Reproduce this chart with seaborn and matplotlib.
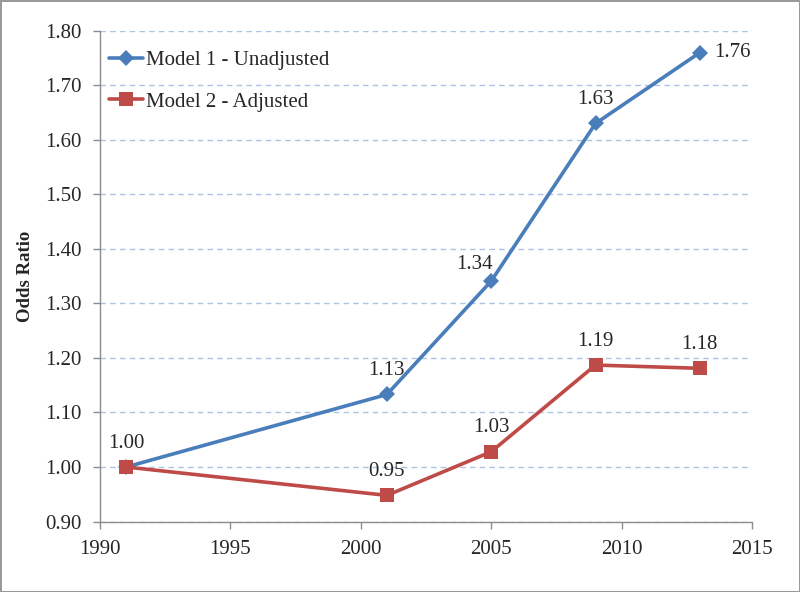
import numpy as np
import pandas as pd
import matplotlib
matplotlib.use("Agg")
import matplotlib.pyplot as plt
from matplotlib.lines import Line2D
import seaborn as sns

# ------------------------------------------------------------
# Data
# ------------------------------------------------------------
years = [1991, 2001, 2005, 2009, 2013]
model1 = [1.000, 1.133, 1.341, 1.630, 1.760]
model2 = [1.000, 0.948, 1.028, 1.187, 1.181]
series_names = ["Model 1 - Unadjusted", "Model 2 - Adjusted"]

df = pd.DataFrame({
    "Year": years * 2,
    "OR": model1 + model2,
    "Model": [series_names[0]] * len(years) + [series_names[1]] * len(years),
})

BLUE = "#4a7ebb"
RED = "#be4b48"
FS = 15

sns.set_style("white")
plt.rcParams["font.family"] = ["Liberation Serif", "DejaVu Serif"]

fig = plt.figure(figsize=(8, 5.92), dpi=100, edgecolor="#9a9a9a", linewidth=2)
ax = fig.add_axes([0.125, 0.119, 0.815, 0.829])

sns.lineplot(data=df, x="Year", y="OR", hue="Model", style="Model",
             palette=[BLUE, RED], markers=["D", "s"], dashes=False,
             markersize=9, markeredgewidth=0, linewidth=2.6, ax=ax, legend=False)
ax.lines[0].set_markersize(8)
ax.lines[1].set_markersize(10.5)

ax.set_xlim(1990, 2015)
ax.set_ylim(0.90, 1.80)
ax.set_xticks(np.arange(1990, 2016, 5))
ax.set_yticks(np.arange(0.90, 1.81, 0.10))
ax.set_yticklabels([f"{v:.2f}" for v in np.arange(0.90, 1.81, 0.10)])
ax.yaxis.grid(True, linestyle=(0, (4, 3)), color="#adc3e3", linewidth=1)
ax.xaxis.grid(False)

for side in ["top", "right"]:
    ax.spines[side].set_visible(False)
for side in ["left", "bottom"]:
    ax.spines[side].set_color("#8c8c8c")
    ax.spines[side].set_linewidth(1)
ax.tick_params(axis="both", direction="out", length=5, width=1, color="#8c8c8c",
               labelsize=FS, pad=8, left=True, bottom=True)

ax.set_xlabel("")
ax.set_ylabel("Odds Ratio", fontsize=13.5, fontweight="bold", labelpad=8)

# data labels
lab_off1 = [None, (0, 24), (-17, 17), (0, 24), (14, 0)]
for x, y, off in zip(years, model1, lab_off1):
    if off is None:
        continue
    ha = "left" if off[0] > 0 and off[1] == 0 else "center"
    ax.annotate(f"{y:.2f}", (x, y), xytext=off, textcoords="offset pixels",
                ha=ha, va="center", fontsize=FS)
for x, y in zip(years, model2):
    ax.annotate(f"{y:.2f}", (x, y), xytext=(0, 24), textcoords="offset pixels",
                ha="center", va="center", fontsize=FS)

handles = [Line2D([], [], color=BLUE, lw=2.6, marker="D", ms=8, mew=0),
           Line2D([], [], color=RED, lw=2.6, marker="s", ms=10.5, mew=0)]
ax.legend(handles, series_names, loc="upper left", bbox_to_anchor=(-0.005, 0.985),
          frameon=False, fontsize=FS, handlelength=1.6, labelspacing=1.05,
          handletextpad=0.15, borderaxespad=0.2)

fig.savefig("out.png", dpi=100, edgecolor=fig.get_edgecolor())
